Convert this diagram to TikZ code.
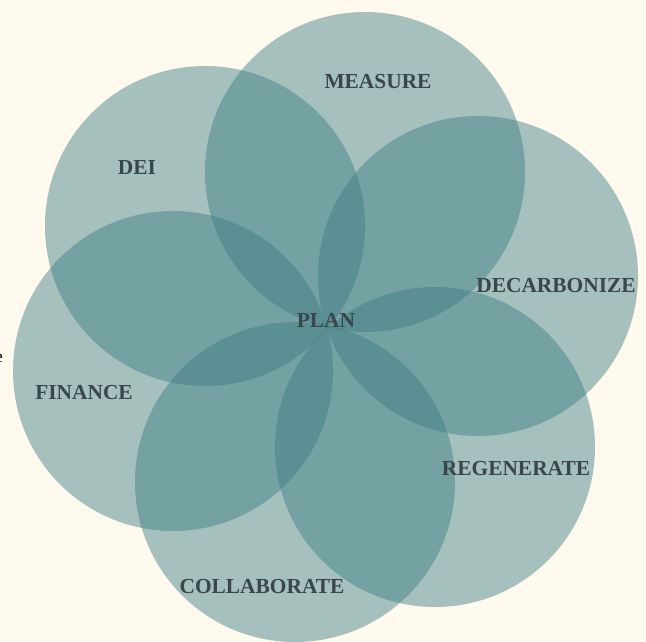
\documentclass[tikz,border=0pt]{standalone}
\usepackage{fontspec}
\setmainfont{Liberation Serif}
\definecolor{bgc}{RGB}{255,249,238}
\definecolor{petalc}{RGB}{60,125,132}
\definecolor{labelc}{RGB}{58,70,74}
\tikzset{
  petal/.style={circle,draw=none,fill=petalc,fill opacity=0.46,minimum size=320bp,inner sep=0pt,outer sep=0pt},
  lab/.style={text=labelc,font=\bfseries\fontsize{21.4bp}{23bp}\selectfont,inner sep=0pt}
}
\begin{document}
\begin{tikzpicture}[x=1bp,y=-1bp]
\useasboundingbox (0,0) rectangle (646,642);
\fill[bgc] (0,0) rectangle (646,642);
\begin{scope}
\clip (0,0) rectangle (646,642);
\node[petal] (cmeasure) at (365,172) {};
\node[petal] (cdecarb) at (478,276) {};
\node[petal] (cregen) at (435,447) {};
\node[petal] (ccollab) at (295,482) {};
\node[petal] (cfinance) at (173,371) {};
\node[petal] (cdei) at (205,226) {};
\node[anchor=east,inner sep=0pt,text=black,font=\fontsize{18bp}{19bp}\selectfont] (stray) at (3,358) {e};
\end{scope}
\node[lab] (measure) at (378,82) {MEASURE};
\node[lab] (dei) at (137,168) {DEI};
\node[lab] (decarb) at (556,286) {DECARBONIZE};
\node[lab] (regen) at (516,469) {REGENERATE};
\node[lab] (collab) at (262,587) {COLLABORATE};
\node[lab] (finance) at (84,393) {FINANCE};
\node[lab] (plan) at (326,320) {PLAN};
\end{tikzpicture}
\end{document}
